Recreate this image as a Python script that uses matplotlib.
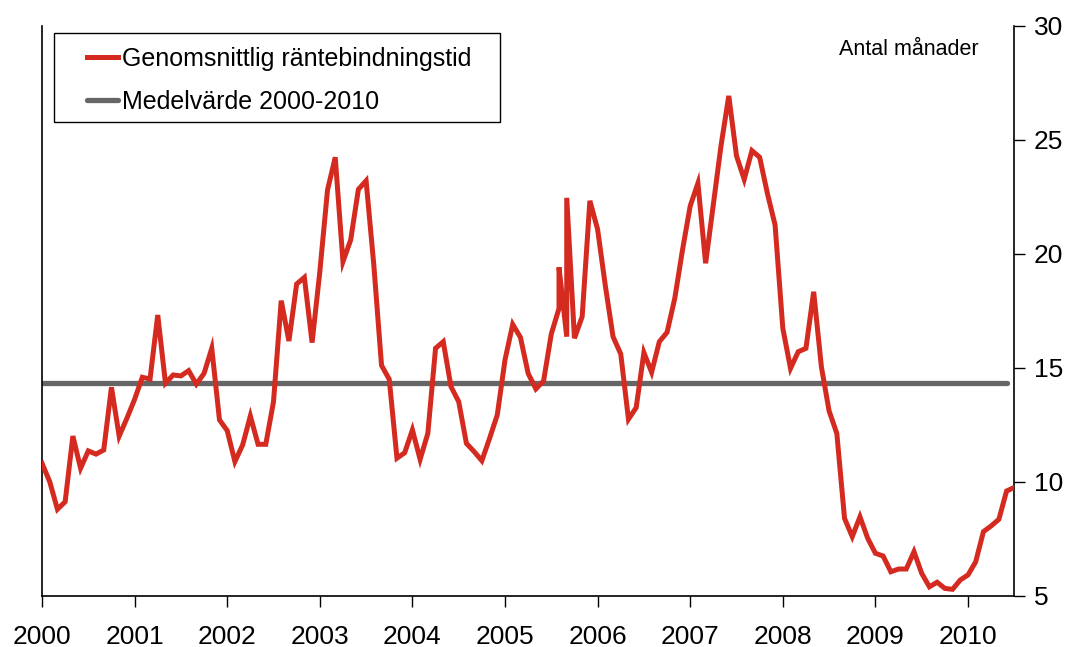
import matplotlib
matplotlib.use("Agg")
import matplotlib.pyplot as plt
from matplotlib.patches import Rectangle
import numpy as np

# Monthly data, Jan 2000 .. Jul 2010 (month index from Jan 2000); a few months appear twice
months = list(range(0, 68)) + [67, 68] + list(range(68, 127))
values = [
    10.81, 10.00, 8.79, 9.12, 12.00, 10.59, 11.35, 11.21, 11.39, 14.14, 12.00, 12.78,   # 2000
    13.61, 14.58, 14.50, 17.31, 14.32, 14.68, 14.64, 14.87, 14.28, 14.75, 15.85, 12.71,  # 2001
    12.24, 10.88, 11.61, 12.88, 11.64, 11.64, 13.51, 17.94, 16.17, 18.67, 18.96, 16.10,  # 2002
    19.20, 22.79, 24.23, 19.65, 20.60, 22.82, 23.20, 19.50, 15.10, 14.49, 11.03, 11.27,  # 2003
    12.27, 10.98, 12.12, 15.85, 16.14, 14.17, 13.51, 11.68, 11.32, 10.92, 11.90, 12.93,  # 2004
    15.34, 16.90, 16.33, 14.75, 14.07, 14.42, 16.48, 17.60, 19.40, 16.36, 22.45,          # 2005 (part)
    16.29, 17.24, 22.32,
    21.07, 18.60, 16.36, 15.60, 12.74, 13.25, 15.66, 14.80, 16.14, 16.55, 18.04, 20.16,  # 2006
    22.09, 23.09, 19.58, 22.17, 24.75, 26.92, 24.29, 23.26, 24.52, 24.23, 22.65, 21.26,  # 2007
    16.73, 14.97, 15.70, 15.85, 18.33, 15.04, 13.10, 12.12, 8.39, 7.59, 8.46, 7.52,      # 2008
    6.86, 6.74, 6.05, 6.17, 6.17, 6.93, 5.98, 5.39, 5.59, 5.32, 5.28, 5.69,              # 2009
    5.91, 6.49, 7.81, 8.06, 8.35, 9.59, 9.75,                                            # 2010
]
mean_value = 14.34
mean_span_months = [0, 125]

year_ticks = list(range(2000, 2011))
y_ticks = [5, 10, 15, 20, 25, 30]

series_label = "Genomsnittlig räntebindningstid"
mean_label = "Medelvärde 2000-2010"
unit_label = "Antal månader"

plt.rcParams['font.family'] = ['Liberation Sans', 'DejaVu Sans']

fig = plt.figure(figsize=(10.66, 6.47), dpi=100)
ax = fig.add_axes([0.0394, 0.0793, 0.9121, 0.881])

x = 2000 + np.array(months) / 12.0
red = "#d42a20"
gray = "#666666"

mx = 2000 + np.array(mean_span_months) / 12.0
ax.plot(mx, [mean_value] * len(mx), color=gray, lw=3.8, solid_capstyle='round', label=mean_label, zorder=2)
ax.plot(x, values, color=red, lw=3.6, solid_joinstyle='miter', label=series_label, zorder=3)

ax.set_xlim(2000, 2010.5)
ax.set_ylim(5, 30)
ax.set_xticks(year_ticks)
ax.set_xticklabels([str(y) for y in year_ticks])
ax.set_yticks(y_ticks)
ax.yaxis.tick_right()
ax.tick_params(axis='x', direction='out', length=8, width=1, labelsize=19, pad=13)
ax.tick_params(axis='y', direction='out', length=8, width=1, labelsize=19, pad=6)
ax.spines['top'].set_visible(False)
for s in ['left', 'bottom', 'right']:
    ax.spines[s].set_linewidth(1.2)
    ax.spines[s].set_color('black')

ax.text(0.963, 0.977, unit_label, transform=ax.transAxes, ha='right', va='top', fontsize=15.5)

# legend frame drawn separately, legend entries placed inside it
ax.add_patch(Rectangle((0.0123, 0.831), 0.4587, 0.156, transform=ax.transAxes,
                       facecolor='white', edgecolor='black', lw=1.0, zorder=4))
handles, labels = ax.get_legend_handles_labels()
leg = ax.legend(handles[::-1], labels[::-1], loc='upper left', bbox_to_anchor=(0.0463, 0.963),
                fontsize=18, frameon=False, borderpad=0, borderaxespad=0,
                handlelength=1.25, handletextpad=0.15, labelspacing=0.75)
leg.set_zorder(5)

fig.savefig("out.png", dpi=100)
